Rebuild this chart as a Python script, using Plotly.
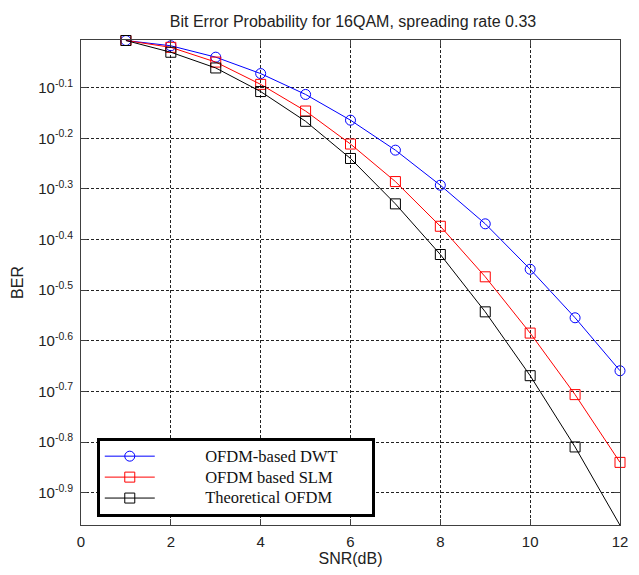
import plotly.graph_objects as go

snr = [1, 2, 3, 4, 5, 6, 7, 8, 9, 10, 11, 12]

# log10(BER) values
log_dwt = [-0.007, -0.0174, -0.0399, -0.0723, -0.1135, -0.1643, -0.2235, -0.2927,
           -0.3689, -0.4586, -0.5544, -0.6590]
log_slm = [-0.007, -0.0205, -0.0496, -0.0936, -0.1462, -0.2114, -0.2855, -0.3737,
           -0.4735, -0.5846, -0.7061, -0.8399]
log_theo = [-0.007, -0.0302, -0.0612, -0.1078, -0.1665, -0.2399, -0.3295, -0.4295,
            -0.5427, -0.6687, -0.8094, -0.9640]

ber_dwt = [10 ** v for v in log_dwt]
ber_slm = [10 ** v for v in log_slm]
ber_theo = [10 ** v for v in log_theo]

names = ["OFDM-based DWT", "OFDM based SLM", "Theoretical OFDM"]
colors = ["#0000ff", "#ff0000", "#000000"]
symbols = ["circle-open", "square-open", "square-open"]

y_exps = [-0.1, -0.2, -0.3, -0.4, -0.5, -0.6, -0.7, -0.8, -0.9]
y_tickvals = [10 ** e for e in y_exps]
y_ticktext = ["10<sup>%s</sup>" % e for e in y_exps]
x_ticks = [0, 2, 4, 6, 8, 10, 12]

W, H = 639, 575
ML, MR, MT, MB = 81, 11, 40, 41

lead = "\u00a0" * 11
trail = "\u00a0" * 7
fig = go.Figure()
for name, ys, c, s in zip(names, [ber_dwt, ber_slm, ber_theo], colors, symbols):
    label = '<span style="font-size:16.5px">' + lead + name + trail + "</span>"
    fig.add_trace(go.Scatter(
        x=snr, y=ys, name=label, mode="lines+markers",
        line=dict(color=c, width=1),
        marker=dict(symbol=s, size=10, color=c, line=dict(color=c, width=1)),
        cliponaxis=False, hoverinfo="skip",
    ))

axis_common = dict(
    showline=True, linecolor="#404040", linewidth=1, mirror="allticks",
    ticks="inside", ticklen=6, tickcolor="#404040",
    showgrid=True, gridcolor="#222222", gridwidth=1, griddash="3px,2px",
    zeroline=False,
    tickfont=dict(family="Liberation Sans, Arial", size=15, color="#222222"),
    title_font=dict(family="Liberation Sans, Arial", size=16, color="#222222"),
)

pw, ph = W - ML - MR, H - MT - MB

fig.update_layout(
    width=W, height=H,
    margin=dict(l=ML, r=MR, t=MT, b=MB),
    paper_bgcolor="white", plot_bgcolor="white",
    hovermode=False,
    title=dict(text="Bit Error Probability for 16QAM, spreading rate 0.33",
               x=353 / W, xanchor="center", y=1 - 21 / H, yanchor="middle",
               font=dict(family="Liberation Sans, Arial", size=16, color="#222222")),
    xaxis=dict(range=[0, 12], tickvals=x_ticks, ticklabelstandoff=3,
               title=dict(text="SNR(dB)", standoff=3), **axis_common),
    yaxis=dict(type="log", range=[-0.9635, -0.006], tickvals=y_tickvals,
               ticktext=y_ticktext, ticklabelstandoff=4,
               title=dict(text="BER", standoff=10), **axis_common),
    legend=dict(x=16 / pw, y=0.18, xanchor="left", yanchor="top",
                bgcolor="white", bordercolor="black", borderwidth=3,
                font=dict(family="Liberation Serif, Times New Roman", size=13.8, color="#111111"),
                itemwidth=50, tracegroupgap=0),
    showlegend=True,
)

pin = ("var gd=document.getElementById('{plot_id}');"
       "gd.style.position='fixed';gd.style.left='0px';gd.style.top='0px';"
       "document.body.style.margin='0';"
       "document.documentElement.style.overflow='hidden';"
       "document.body.style.overflow='hidden';")
fig.write_html("out.html", config={"displayModeBar": False, "responsive": False},
               post_script=pin)
